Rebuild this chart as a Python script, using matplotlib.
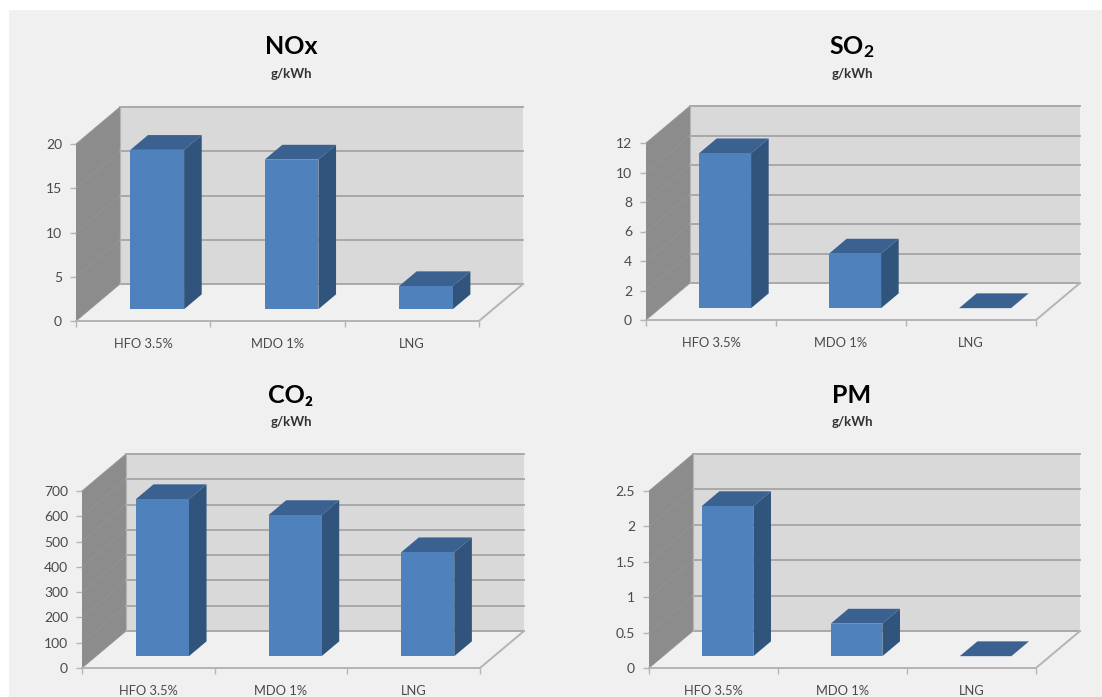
import matplotlib
matplotlib.use('Agg')
import matplotlib.pyplot as plt
from matplotlib.patches import Polygon, Rectangle

plt.rcParams['font.family'] = ['Lato', 'DejaVu Sans']
plt.rcParams['mathtext.default'] = 'regular'

W, H = 1102, 697

categories = ['HFO 3.5%', 'MDO 1%', 'LNG']

nox_values = [18.0, 16.9, 2.6]
so2_values = [10.5, 3.7, 0.0]
co2_values = [621, 558, 411]
pm_values = [2.12, 0.46, 0.0]

nox_ticks = [0, 5, 10, 15, 20]
so2_ticks = [0, 2, 4, 6, 8, 10, 12]
co2_ticks = [0, 100, 200, 300, 400, 500, 600, 700]
pm_ticks = [0, 0.5, 1, 1.5, 2, 2.5]
pm_labels = ['0', '0.5', '1', '1.5', '2', '2.5']

# kleuren uit de 3D-grafiek
BG = '#f0f0f0'
WALL = '#d9d9d9'
SIDE = '#8c8c8c'
GRID = '#a4a4a4'
FRONT = '#4f81bd'
TOP = '#3a6190'
RIGHT = '#31547c'
TEXT = '#4a4a4a'

DEPTH_X, DEPTH_Y = 44, 37   # diepte van de vloer in pixels


def draw_panel(values, ticks, title, left, right, y0, y_top, title_x, title_y,
               tick_labels=None):
    ax = fig.add_axes([left / W, 1 - y0 / H, (right - left) / W, (y0 - y_top) / H])
    ax.set_xlim(0, 3)
    ax.set_ylim(0, ticks[-1])
    ax.patch.set_visible(False)
    for s in ax.spines.values():
        s.set_visible(False)

    # diepte omgerekend naar data-eenheden
    dx = DEPTH_X / (right - left) * 3
    dy = DEPTH_Y / (y0 - y_top) * ticks[-1]
    ymax = ticks[-1]

    def add(points, color, z=1, edge='none', lw=0):
        ax.add_patch(Polygon(points, closed=True, facecolor=color, edgecolor=edge,
                             linewidth=lw, zorder=z, clip_on=False))

    # achterwand en zijwand
    add([(dx, dy), (3 + dx, dy), (3 + dx, ymax + dy), (dx, ymax + dy)], WALL)
    add([(0, 0), (dx, dy), (dx, ymax + dy), (0, ymax)], SIDE)

    # rasterlijnen
    for t in ticks:
        ax.plot([dx, 3 + dx], [t + dy, t + dy], color=GRID, lw=1.3, zorder=2, clip_on=False)
        ax.plot([0, dx], [t, t + dy], color='#949494', lw=0.6, zorder=2, clip_on=False)

    # vloerranden
    ax.plot([0, 3, 3 + dx], [0, 0, dy], color='#b4b4b4', lw=1.4, zorder=2, clip_on=False)
    ax.plot([dx, dx], [dy, ymax + dy], color='#b4b4b4', lw=0.8, zorder=2, clip_on=False)

    # balken
    bar_w = 0.4
    near, far = 0.32, 0.72
    for i, v in enumerate(values):
        x0 = i + 0.5 - bar_w / 2 + near * dx
        x1 = x0 + bar_w
        b = near * dy
        ox = (far - near) * dx
        oy = (far - near) * dy
        if v > 0:
            ax.bar(x0, v, width=bar_w, bottom=b, align='edge', color=FRONT, zorder=4,
                   clip_on=False)
        add([(x1, b), (x1 + ox, b + oy), (x1 + ox, b + v + oy), (x1, b + v)], RIGHT, z=3)
        add([(x0, b + v), (x1, b + v), (x1 + ox, b + v + oy), (x0 + ox, b + v + oy)], TOP, z=3)

    ax.set_yticks(ticks)
    ax.set_yticklabels(tick_labels if tick_labels else [str(t) for t in ticks])
    ax.set_xticks([0, 1, 2, 3])
    ax.set_xticklabels([])
    ax.set_xticks([0.5, 1.5, 2.5], minor=True)
    ax.set_xticklabels(categories, minor=True)
    ax.tick_params(axis='x', which='major', length=4, color='#b4b4b4', width=1)
    ax.tick_params(axis='x', which='minor', length=0, pad=12, labelsize=9.3, labelcolor=TEXT)
    ax.tick_params(axis='y', length=4, color='#b4b4b4', width=1, pad=6, labelsize=10,
                   labelcolor=TEXT)

    fig.text(title_x / W, 1 - title_y / H, title, fontsize=18, fontweight='bold',
             color='black', ha='center', va='center')
    fig.text(title_x / W, 1 - (title_y + 27) / H, 'g/kWh', fontsize=9.5, fontweight='bold',
             color='#333333', ha='center', va='center')


fig = plt.figure(figsize=(W / 100, H / 100), dpi=100, facecolor='white')
fig.add_artist(Rectangle((9 / W, 0), 1 - 9 / W, 1 - 10 / H, transform=fig.transFigure,
                         facecolor=BG, edgecolor='none', zorder=-5))

draw_panel(nox_values, nox_ticks, 'NOx', 76, 479, 321, 144, 291, 47)
draw_panel(so2_values, so2_ticks, 'SO$_2$', 646, 1036, 320, 143, 852, 47)
draw_panel(co2_values, co2_ticks, 'CO₂', 82, 480, 668, 491, 291, 395)
draw_panel(pm_values, pm_ticks, 'PM', 649, 1036, 668, 491, 852, 395, tick_labels=pm_labels)

fig.savefig('out.png', dpi=100, facecolor=fig.get_facecolor())
